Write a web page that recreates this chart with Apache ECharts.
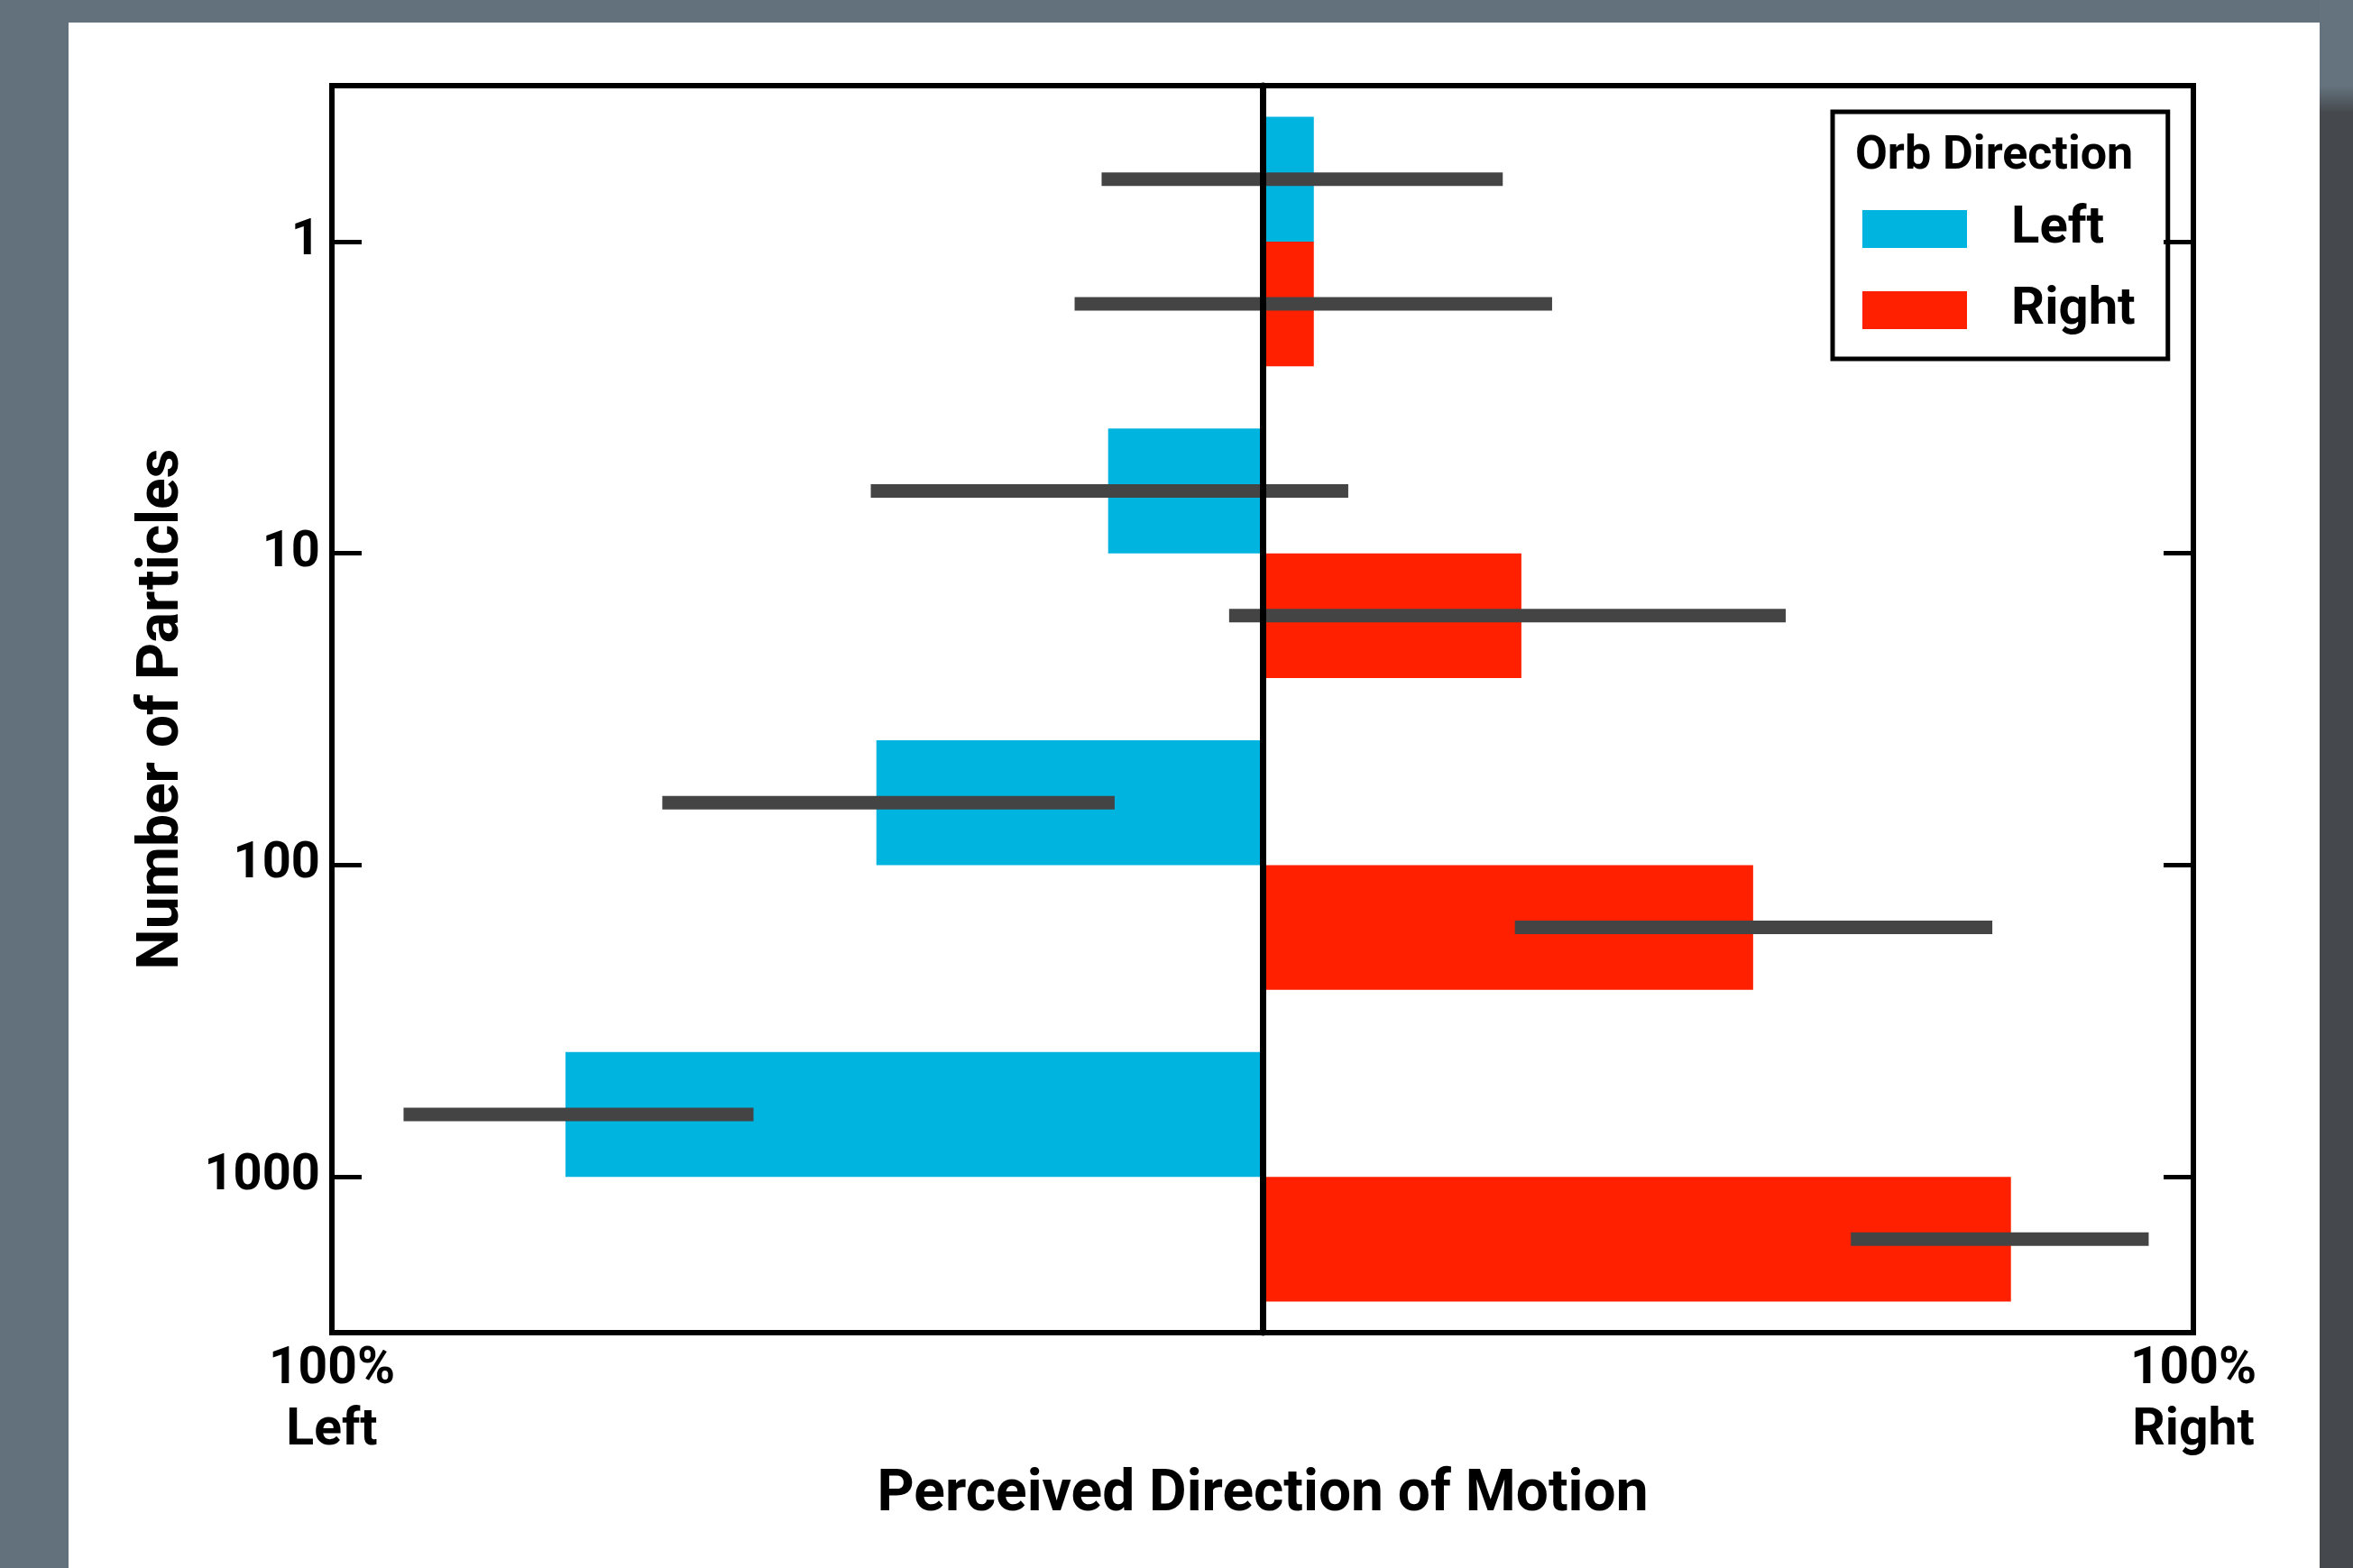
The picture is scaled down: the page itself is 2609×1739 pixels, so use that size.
<!DOCTYPE html>
<html>
<head>
<meta charset="utf-8">
<script src="https://cdn.jsdelivr.net/npm/echarts@6/dist/echarts.min.js"></script>
<style>
  html, body { margin: 0; padding: 0; background: #63717d; overflow: hidden; }
  .side { position: absolute; left: 2572px; top: 0; width: 37px; height: 1739px;
    background: linear-gradient(#65737e 0px, #65737e 95px, #45494d 125px, #45494d 100%); }
  .panel { position: absolute; left: 76px; top: 25px; width: 2496px; height: 1714px; background: #fff; }
  #chart { position: absolute; left: 0; top: 0; width: 2609px; height: 1739px; }
</style>
</head>
<body>
<div class="side"></div>
<div class="panel"></div>
<div id="chart"></div>
<script>
// number of particles (y categories, top to bottom)
const particles = ['1', '10', '100', '1000']
// perceived direction, -100 = 100% left, +100 = 100% right
const leftOrb = [5.5, -16.6, -41.5, -74.9]
const rightOrb = [5.5, 27.8, 52.7, 80.4]
// error bar ranges
const leftErrLow = [-17.3, -42.1, -64.5, -92.3]
const leftErrHigh = [25.8, 9.2, -15.9, -54.7]
const rightErrLow = [-20.2, -3.6, 27.1, 63.2]
const rightErrHigh = [31.1, 56.2, 78.4, 95.2]

const font = 'Roboto'
const blue = '#00b4e0'
const red = '#ff2000'

const errData = []
particles.forEach((p, i) => {
  errData.push([i, leftErrLow[i], leftErrHigh[i], -1])
  errData.push([i, rightErrLow[i], rightErrHigh[i], 1])
})

const chart = echarts.init(document.getElementById('chart'))

const catAxis = (pos, showLabel) => ({
  type: 'category',
  data: particles,
  inverse: true,
  position: pos,
  boundaryGap: true,
  axisLine: { show: false, onZero: false },
  axisTick: { show: true, inside: true, alignWithLabel: true, length: 33, lineStyle: { color: '#000', width: 5 } },
  axisLabel: { show: showLabel, margin: 13, color: '#000', fontFamily: font, fontWeight: 'bold', fontSize: 56 },
  splitLine: { show: false },
})

const option = {
  backgroundColor: 'transparent',
  animation: false,
  grid: {
    left: 368,
    right: 177,
    top: 95,
    bottom: 261,
    show: true,
    borderColor: '#000',
    borderWidth: 6,
    backgroundColor: 'transparent',
  },
  title: {
    text: 'Orb Direction',
    left: 2057,
    top: 148,
    padding: 0,
    textStyle: { color: '#000', fontFamily: font, fontWeight: 'bold', fontSize: 52 },
  },
  legend: {
    data: ['Left', 'Right'],
    orient: 'vertical',
    left: 2032,
    top: 124,
    padding: [101, 36, 25, 33],
    borderColor: '#000',
    borderWidth: 5,
    itemWidth: 116,
    itemHeight: 42,
    itemGap: 32,
    icon: 'rect',
    selectedMode: false,
    textStyle: { color: '#000', fontFamily: font, fontWeight: 'bold', fontSize: 58, lineHeight: 42, padding: [0, 0, 0, 44] },
  },
  xAxis: {
    type: 'value',
    min: -100,
    max: 100,
    interval: 100,
    axisLine: { show: false },
    axisTick: { show: false },
    splitLine: { show: false },
    axisLabel: {
      margin: 8,
      color: '#000',
      fontFamily: font,
      fontWeight: 'bold',
      fontSize: 57,
      lineHeight: 68,
      formatter: v => (v === -100 ? '100%\nLeft' : v === 100 ? '100%\nRight' : ''),
    },
    name: 'Perceived Direction of Motion',
    nameLocation: 'middle',
    nameGap: 133,
    nameTextStyle: { color: '#000', fontFamily: font, fontWeight: 'bold', fontSize: 64 },
  },
  yAxis: [
    Object.assign(catAxis('left', true), {
      name: 'Number of Particles',
      nameLocation: 'middle',
      nameRotate: 90,
      nameGap: 155,
      nameTextStyle: { color: '#000', fontFamily: font, fontWeight: 'bold', fontSize: 64 },
    }),
    catAxis('right', false),
    {
      // centre line at 0%
      type: 'category',
      data: particles,
      inverse: true,
      z: 10,
      axisLine: { show: true, onZero: true, lineStyle: { color: '#000', width: 7 } },
      axisTick: { show: false },
      axisLabel: { show: false },
      splitLine: { show: false },
    },
  ],
  series: [
    {
      name: 'Left',
      type: 'bar',
      data: leftOrb,
      barWidth: '40%',
      barGap: '0%',
      itemStyle: { color: blue },
    },
    {
      name: 'Right',
      type: 'bar',
      data: rightOrb,
      barWidth: '40%',
      barGap: '0%',
      itemStyle: { color: red },
    },
    {
      name: 'error',
      type: 'custom',
      z: 5,
      encode: { x: [1, 2], y: 0 },
      data: errData,
      renderItem: (params, api) => {
        const cat = api.value(0)
        const p1 = api.coord([api.value(1), cat])
        const p2 = api.coord([api.value(2), cat])
        const band = api.size([0, 1])[1]
        const y = p1[1] + api.value(3) * band * 0.2
        return {
          type: 'rect',
          shape: { x: p1[0], y: y - 7.5, width: p2[0] - p1[0], height: 15 },
          style: { fill: '#444444' },
        }
      },
    },
  ],
}

chart.setOption(option)
</script>
</body>
</html>
